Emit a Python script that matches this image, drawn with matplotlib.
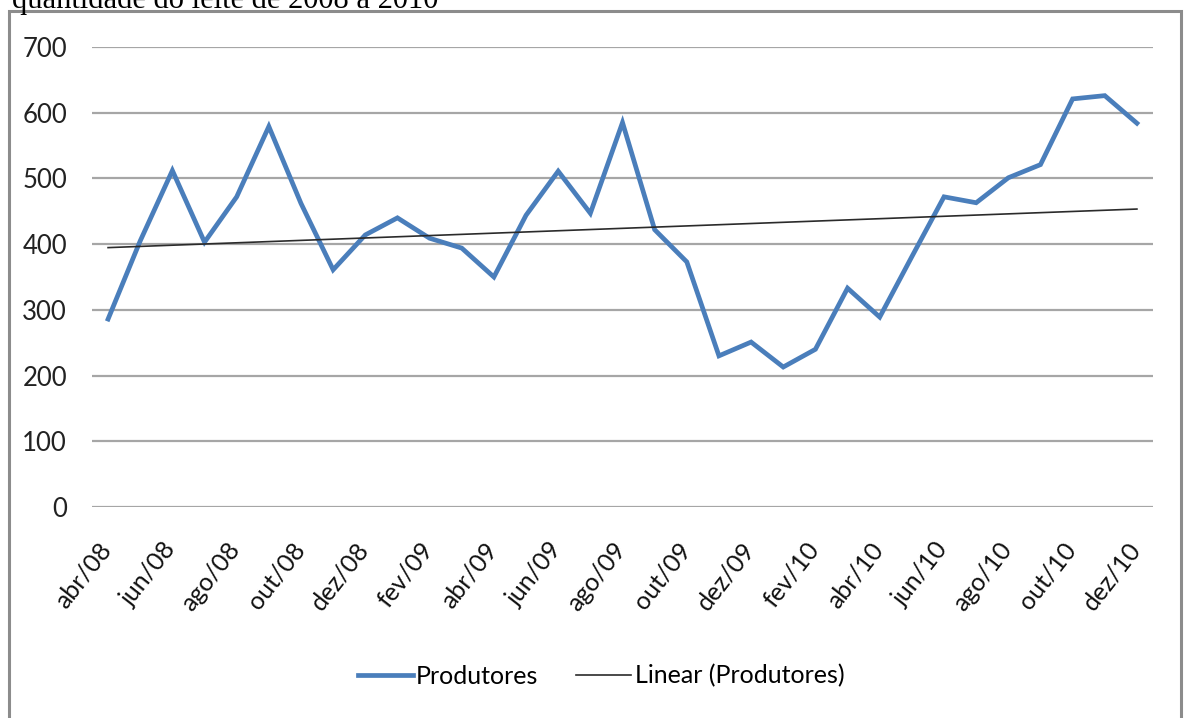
import matplotlib.pyplot as plt
import matplotlib.transforms as mtransforms
from matplotlib.patches import Rectangle
import numpy as np

plt.rcParams['font.family'] = ['Lato', 'DejaVu Sans']

# Monthly series, abr/08 .. dez/10
months = ['abr/08', 'mai/08', 'jun/08', 'jul/08', 'ago/08', 'set/08', 'out/08', 'nov/08',
          'dez/08', 'jan/09', 'fev/09', 'mar/09', 'abr/09', 'mai/09', 'jun/09', 'jul/09',
          'ago/09', 'set/09', 'out/09', 'nov/09', 'dez/09', 'jan/10', 'fev/10', 'mar/10',
          'abr/10', 'mai/10', 'jun/10', 'jul/10', 'ago/10', 'set/10', 'out/10', 'nov/10',
          'dez/10']
produtores = [286, 405, 512, 403, 472, 579, 462, 361, 414, 440, 409, 394, 350, 444, 511,
              447, 585, 422, 373, 230, 251, 213, 240, 333, 289, 381, 472, 463, 501, 521,
              621, 626, 584]
yticks = [0, 100, 200, 300, 400, 500, 600, 700]

BLUE = '#4a7ebb'
GRID = '#a6a6a6'

W, H = 1184, 718
fig = plt.figure(figsize=(W / 100, H / 100), dpi=100)

# outer frame and the caption line running above it
fig.patches.append(Rectangle((9 / W, -0.05), (1181 - 9) / W, 1.05 - 11 / H,
                             transform=fig.transFigure, fill=False,
                             edgecolor='#8c8c8c', linewidth=2.2))
fig.text(12 / W, 1 - 8 / H, 'quantidade do leite de 2008 a 2010',
         family='Liberation Serif', fontsize=22, va='baseline', ha='left')

ax = fig.add_axes([92 / W, 1 - 507 / H, (1153 - 92) / W, (507 - 47) / H])

x = np.arange(len(months))
y = np.array(produtores, dtype=float)

slope, intercept = np.polyfit(x, y, 1)
trend = slope * x + intercept

ax.plot(x, y, color=BLUE, linewidth=3.4, solid_joinstyle='miter',
        label='Produtores', zorder=3)
ax.plot(x, trend, color='#2b2b2b', linewidth=1.2, label='Linear (Produtores)', zorder=4)

ax.set_xlim(-0.5, len(months) - 0.5)
ax.set_ylim(0, 700)
ax.set_yticks(yticks)
ax.yaxis.grid(True, color=GRID, linewidth=1.6)
ax.set_axisbelow(True)
for s in ax.spines.values():
    s.set_visible(False)
ax.tick_params(axis='y', length=0, pad=18, labelsize=18.5, labelcolor='#222222')
ax.tick_params(axis='x', length=0, pad=0)

tick_idx = x[::2]
ax.set_xticks(tick_idx)
ax.set_xticklabels([months[i] for i in tick_idx], rotation=52, ha='right',
                   va='center', rotation_mode='anchor', fontsize=18, color='#111111')
shift = mtransforms.ScaledTranslation(-1 / 100, -38 / 100, fig.dpi_scale_trans)
for lbl in ax.get_xticklabels():
    lbl.set_transform(lbl.get_transform() + shift)

leg = fig.legend(loc='center', bbox_to_anchor=(601 / W, 1 - 676 / H), ncol=2,
                 frameon=False, fontsize=18, handlelength=2.2, handletextpad=0.15,
                 columnspacing=1.5)

fig.savefig('out.png', dpi=100, facecolor='white')
